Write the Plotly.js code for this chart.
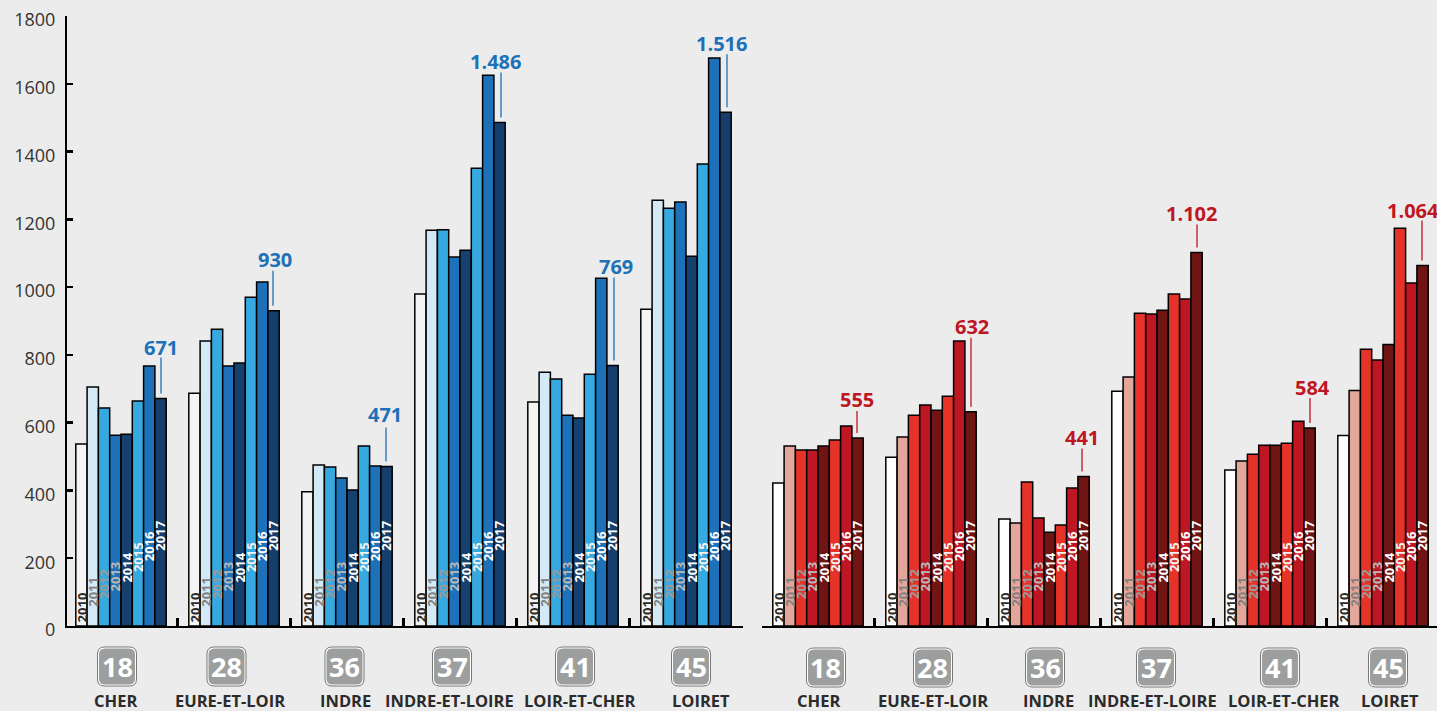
<!DOCTYPE html>
<html><head><meta charset="utf-8">
<script src="https://cdn.plot.ly/plotly-3.0.1.min.js"></script>
<style>html,body{margin:0;padding:0;background:#ececec;overflow:hidden}</style>
</head><body><div id="chart"></div>
<script>
const departments = ['CHER','EURE-ET-LOIR','INDRE','INDRE-ET-LOIRE','LOIR-ET-CHER','LOIRET'];
const codes = ['18','28','36','37','41','45'];
const years = ['2010','2011','2012','2013','2014','2015','2016','2017'];
const blueCher   = [537,705,643,563,566,664,767,671];
const blueEure   = [687,841,876,767,776,970,1015,930];
const blueIndre  = [396,475,469,437,401,531,472,471];
const blueIEL    = [980,1168,1169,1089,1109,1351,1625,1486];
const blueLEC    = [661,749,729,622,614,743,1026,769];
const blueLoiret = [935,1256,1233,1251,1091,1363,1676,1516];
const redCher    = [422,531,519,519,531,549,590,555];
const redEure    = [498,558,622,652,637,678,841,632];
const redIndre   = [316,304,425,319,277,298,407,441];
const redIEL     = [693,735,923,921,932,980,965,1102];
const redLEC     = [460,487,507,533,533,539,604,584];
const redLoiret  = [562,695,817,785,831,1174,1012,1064];
const blueLabels = ['671','930','471','1.486','769','1.516'];
const redLabels  = ['555','632','441','1.102','584','1.064'];
const yTicks = [0,200,400,600,800,1000,1200,1400,1600,1800];

const blueColors = ['#f4f4f4','#d4e9f6','#36a9e1','#1d71b8','#16406d','#36a9e1','#1d71b8','#163e6c'];
const redColors  = ['#ffffff','#e3a69b','#e6332a','#be1622','#701414','#e6332a','#be1622','#701414'];
const yearColors = ['#2b2b2b','#808080','#9a9a9a','#b9b9b9','#ffffff','#f2f2f2','#ffffff','#ffffff'];
const yearBase   = [12,56,80,103,127,159,192,221];
const W = 1440, H = 711, mL = 64.5, mR = 761.5, pw = 678;

const panels = [
 {xa:'x', rows:[blueCher,blueEure,blueIndre,blueIEL,blueLEC,blueLoiret], colors:blueColors, labels:blueLabels, tone:'#1d71b8',
  lineDx:[40,39,39,41,41,41], labelDx:[40,41,38,35,43,35], lineTop:[41,40,39,50,88,58], labelUp:[51,51,52,61,99,69],
  badgeDx:[-4,-7.5,-2.5,-8,2,5], nameDx:[-6,-4,-2,-11,7,15], badgeCy:-40.5},
 {xa:'x2', rows:[redCher,redEure,redIndre,redIEL,redLEC,redLoiret], colors:redColors, labels:redLabels, tone:'#be1622',
  lineDx:[39,40,38,40,40,39], labelDx:[39,41,38,34,42,30], lineTop:[27,74,28,28,30,45], labelUp:[38,85,39,39,41,55],
  badgeDx:[8,2,1,-1,10,5], nameDx:[0.5,2.5,4,-5,14,7], badgeCy:-41.5}
];

const traces=[], annotations=[], shapes=[];
const boxPath=(dx,half,r,cy)=>{
  const l=dx-half,R=dx+half,b=cy-half,t=cy+half;
  return `M${l+r},${t} L${R-r},${t} Q${R},${t} ${R},${t-r} L${R},${b+r} Q${R},${b} ${R-r},${b} L${l+r},${b} Q${l},${b} ${l},${b+r} L${l},${t-r} Q${l},${t} ${l+r},${t} Z`;
};
panels.forEach(p=>{
  years.forEach((yr,i)=>{
    traces.push({type:'bar',x:departments,y:p.rows.map(r=>r[i]),xaxis:p.xa,yaxis:'y',name:yr,showlegend:false,
      marker:{color:p.colors[i],line:{color:'#000',width:1.5}},hoverinfo:'x+y+name'});
    departments.forEach((d,k)=>annotations.push({xref:p.xa,yref:'y',x:k,y:yearBase[i],xshift:(i-3.5)*11.3,text:yr,textangle:-90,
      showarrow:false,xanchor:'center',yanchor:'bottom',borderpad:0,borderwidth:0,font:{family:'Open Sans',size:13,weight:700,color:yearColors[i]}}));
  });
  departments.forEach((d,k)=>{
    const v=p.rows[k][7];
    annotations.push({xref:p.xa,yref:'y',x:k,y:v,xshift:p.labelDx[k],yshift:p.labelUp[k],text:p.labels[k],showarrow:false,
      xanchor:'center',yanchor:'middle',font:{family:'Open Sans',size:20,weight:700,color:p.tone}});
    shapes.push({type:'line',xref:p.xa,yref:'y',xsizemode:'pixel',ysizemode:'pixel',xanchor:k,yanchor:v,
      x0:p.lineDx[k],x1:p.lineDx[k],y0:5,y1:p.lineTop[k],line:{color:p.tone,width:1.3}});
    shapes.push({type:'path',xref:p.xa,yref:'paper',xsizemode:'pixel',ysizemode:'pixel',xanchor:k,yanchor:0,
      path:boxPath(p.badgeDx[k],19.5,7,p.badgeCy),fillcolor:'#ffffff',line:{color:'#6a6a6a',width:0.9}});
    shapes.push({type:'path',xref:p.xa,yref:'paper',xsizemode:'pixel',ysizemode:'pixel',xanchor:k,yanchor:0,
      path:boxPath(p.badgeDx[k],18,6,p.badgeCy),fillcolor:'#9d9e9e',line:{width:0}});
    annotations.push({xref:p.xa,yref:'paper',x:k,y:0,xshift:p.badgeDx[k],yshift:p.badgeCy,text:codes[k],showarrow:false,
      xanchor:'center',yanchor:'middle',font:{family:'Open Sans',size:27,weight:700,color:'#ffffff'}});
    annotations.push({xref:p.xa,yref:'paper',x:k,y:0,xshift:p.nameDx[k],yshift:-74,text:d,showarrow:false,
      xanchor:'center',yanchor:'middle',font:{family:'Open Sans',size:16.5,weight:700,color:'#2b2b2b'}});
  });
});
const xBase={type:'category',categoryorder:'array',categoryarray:departments,range:[-0.5,5.5],autorange:false,showticklabels:false,ticks:'inside',ticklen:8,tickwidth:2.5,
  tickcolor:'#000',tickson:'boundaries',showline:true,linecolor:'#000',linewidth:2.2,showgrid:false,zeroline:false,anchor:'y',fixedrange:true};
const layout={width:W,height:H,margin:{l:0,r:0,t:16,b:85},paper_bgcolor:'#ececec',plot_bgcolor:'#ececec',barmode:'group',bargap:0.2,bargroupgap:0,
  showlegend:false,
  xaxis:{...xBase,domain:[mL/W,(mL+pw)/W]},
  xaxis2:{...xBase,domain:[mR/W,(mR+pw)/W]},
  yaxis:{range:[0,1800],autorange:false,tickmode:'array',tickvals:yTicks,ticktext:yTicks.map(String),ticks:'inside',ticklen:6,tickwidth:2.5,tickcolor:'#000',
    showline:true,linecolor:'#000',linewidth:2.5,showgrid:false,zeroline:false,anchor:'free',position:(mL+1.4)/W,ticklabelstandoff:6,ticklabelshift:4,
    tickfont:{family:'Open Sans',size:18,color:'#333'},fixedrange:true},
  annotations,shapes};
Plotly.newPlot('chart',traces,layout,{displayModeBar:false,staticPlot:true});
</script></body></html>
